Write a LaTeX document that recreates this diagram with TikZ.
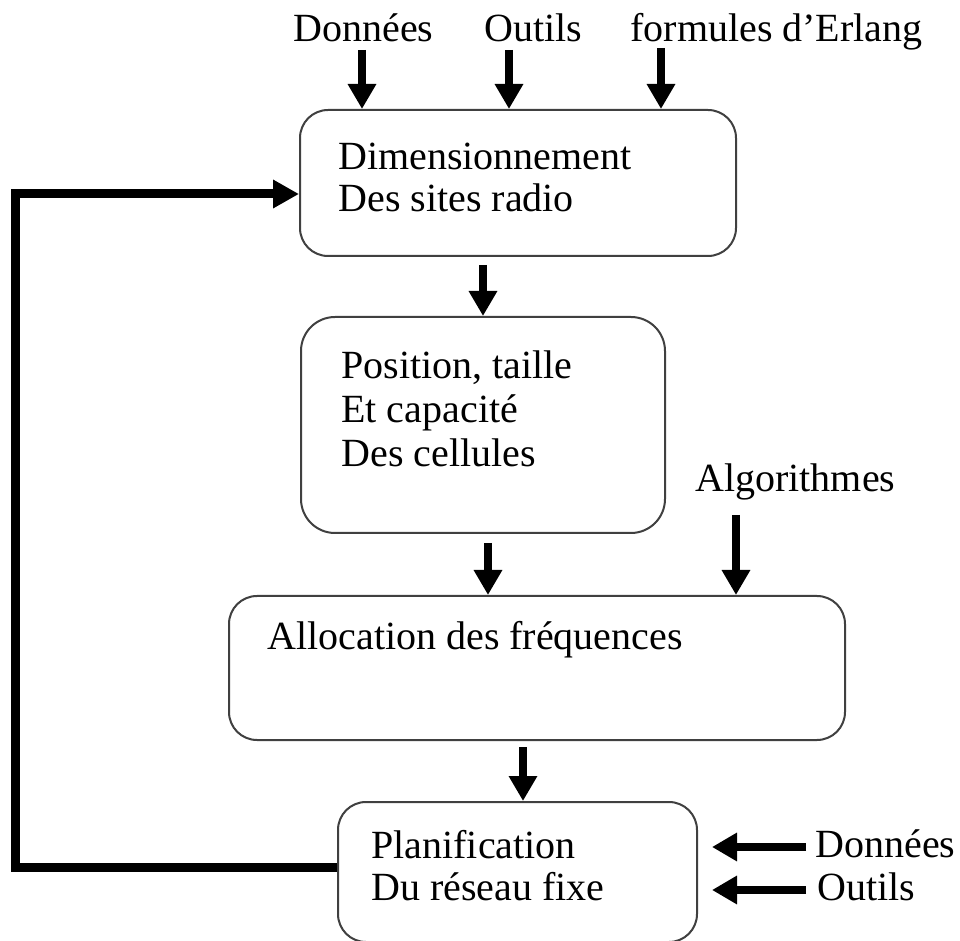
\documentclass[tikz,border=0pt]{standalone}
\usepackage{fontspec}
\setmainfont{Liberation Serif}
\usetikzlibrary{arrows.meta}
\begin{document}
\begin{tikzpicture}[x=0.5pt,y=-0.5pt,
  box/.style={draw=black!75, line width=1pt, rounded corners=14pt, inner sep=0pt, fill=white},
  lbl/.style={inner sep=0pt, anchor=base west, align=left, font=\fontsize{20pt}{22pt}\selectfont},
  arr/.style={line width=3.8pt, -{Triangle[width=13.5pt,length=12.5pt]}},
  fb/.style={line width=4.5pt, line join=miter, -{Triangle[width=13.5pt,length=13pt]}}]
\useasboundingbox (0,0) rectangle (960,941);
\fill[white] (0,0) rectangle (960,941);

% boxes
\node[box, minimum width=218pt, minimum height=73pt] (b1) at (518,183) {};
\node[box, rounded corners=17pt, minimum width=182pt, minimum height=108pt] (b2) at (483,425) {};
\node[box, minimum width=308pt, minimum height=72pt] (b3) at (537,668) {};
\node[box, minimum width=179.5pt, minimum height=70pt] (b4) at (517.5,872) {};

% box texts (anchor = baseline of last line)
\node[lbl, font=\fontsize{20pt}{21pt}\selectfont] (t1) at (338,212) {Dimensionnement\\Des sites radio};
\node[lbl] (t2) at (341,467) {Position, taille\\Et capacité\\Des cellules};
\node[lbl] (t3) at (267,650) {Allocation des fréquences};
\node[lbl, font=\fontsize{20pt}{21pt}\selectfont] (t4) at (371,900) {Planification\\Du réseau fixe};

% input labels
\node[lbl] (in1) at (293,42) {Données};
\node[lbl] (in2) at (484,42) {Outils};
\node[lbl] (in3) at (630,42) {formules d’Erlang};
\node[lbl] (alg) at (695,492) {Algorithmes};
\node[lbl] (in4) at (815,857) {Données};
\node[lbl] (in5) at (817,900) {Outils};

% input arrows
\coordinate (a1) at (362,50);
\coordinate (a2) at (509,50);
\coordinate (a3) at (661,48);
\draw[arr] (a1) -- (a1 |- b1.north);
\draw[arr] (a2) -- (a2 |- b1.north);
\draw[arr] (a3) -- (a3 |- b1.north);

\coordinate (a12) at (483,265);
\draw[arr] (a12) -- (a12 |- b2.north);
\coordinate (a23) at (488,543);
\draw[arr] (a23) -- (a23 |- b3.north);
\coordinate (aal) at (736,515);
\draw[arr] (aal) -- (aal |- b3.north);
\coordinate (a34) at (523,747);
\draw[arr] (a34) -- (a34 |- b4.north);

\coordinate (r1s) at (806,847);
\coordinate (r1e) at (712,847);
\coordinate (r2s) at (806,890);
\coordinate (r2e) at (712,890);
\draw[arr] (r1s) -- (r1e);
\draw[arr] (r2s) -- (r2e);

% feedback loop
\coordinate (f1) at (15,867);
\coordinate (f2) at (15,194);
\draw[fb] (b4.west |- f1) -- (f1) -- (f2) -- (b1.west |- f2);
\end{tikzpicture}
\end{document}
